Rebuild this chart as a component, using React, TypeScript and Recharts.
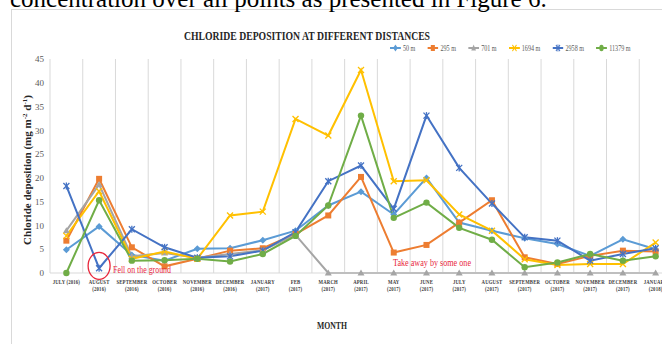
import React from 'react';
import { LineChart, Line, XAxis, YAxis, CartesianGrid, Legend, ReferenceDot } from 'recharts';

const monthNames = ['JULY', 'AUGUST', 'SEPTEMBER', 'OCTOBER', 'NOVEMBER', 'DECEMBER', 'JANUARY', 'FEB', 'MARCH', 'APRIL', 'MAY', 'JUNE', 'JULY', 'AUGUST', 'SEPTEMBER', 'OCTOBER', 'NOVEMBER', 'DECEMBER', 'JANUARY'];
const monthYears = ['2016', '2016', '2016', '2016', '2016', '2016', '2017', '2017', '2017', '2017', '2017', '2017', '2017', '2017', '2017', '2017', '2017', '2017', '2018'];

// chloride deposition, mg m-2 d-1
const m50 = [4.9, 9.8, 3.8, 2.6, 5.1, 5.2, 6.9, 8.9, 14.2, 17.1, 12.3, 20.0, 10.6, 8.9, 7.3, 6.1, 3.6, 7.1, 5.0];
const m295 = [6.8, 19.8, 5.4, 1.4, 3.0, 4.7, 5.2, 8.2, 12.1, 20.2, 4.3, 5.9, 10.6, 15.3, 3.3, 1.9, 3.6, 4.7, 4.5];
const m701 = [8.9, 18.6, 3.5, 4.2, 3.2, 4.0, 4.8, 8.0, 0, 0, 0, 0, 0, 0, 0, 0, 0, 0, 0];
const m1694 = [7.8, 17.2, 3.0, 4.5, 3.0, 12.1, 12.9, 32.4, 28.9, 42.7, 19.3, 19.5, 12.3, 8.9, 2.9, 1.7, 1.9, 1.9, 6.4];
const m2958 = [18.3, 1.0, 9.2, 5.4, 3.2, 3.5, 4.7, 8.6, 19.3, 22.6, 13.5, 33.1, 22.1, 14.6, 7.5, 6.8, 2.6, 4.0, 5.2];
const m11379 = [0, 15.3, 2.6, 2.7, 3.0, 2.4, 4.0, 7.8, 14.2, 33.1, 11.6, 14.8, 9.5, 7.0, 1.2, 2.2, 4.0, 2.6, 3.5];

const yTicks = [0, 5, 10, 15, 20, 25, 30, 35, 40, 45];

// "fell on the ground" mark
const fallMonth = 'AUGUST (2016)';
const fallValue = 1.5;

const months = monthNames.map((m, i) => `${m} (${monthYears[i]})`);

const series = [
  { key: 'm50', name: '50 m', color: '#5B9BD5', shape: 'diamond', values: m50 },
  { key: 'm295', name: '295 m', color: '#ED7D31', shape: 'square', values: m295 },
  { key: 'm701', name: '701 m', color: '#A5A5A5', shape: 'triangle', values: m701 },
  { key: 'm1694', name: '1694 m', color: '#FFC000', shape: 'x', values: m1694 },
  { key: 'm2958', name: '2958 m', color: '#4472C4', shape: 'star', values: m2958 },
  { key: 'm11379', name: '11379 m', color: '#70AD47', shape: 'circle', values: m11379 },
];

const data = months.map((month, i) => {
  const row: Record<string, any> = { month };
  series.forEach((s) => { row[s.key] = s.values[i]; });
  return row;
});

const serif = '"Liberation Serif", "Times New Roman", serif';

function marker(shape: string, cx: number, cy: number, color: string, key?: string) {
  if (cx == null || cy == null) return <g key={key} />;
  switch (shape) {
    case 'diamond':
      return <polygon key={key} points={`${cx},${cy - 3.5} ${cx + 3.5},${cy} ${cx},${cy + 3.5} ${cx - 3.5},${cy}`} fill={color} />;
    case 'square':
      return <rect key={key} x={cx - 3} y={cy - 3} width={6} height={6} fill={color} />;
    case 'triangle':
      return <polygon key={key} points={`${cx},${cy - 3.5} ${cx + 3.5},${cy + 2.5} ${cx - 3.5},${cy + 2.5}`} fill={color} />;
    case 'x':
      return (
        <g key={key} stroke={color} strokeWidth={1.3}>
          <line x1={cx - 3} y1={cy - 3} x2={cx + 3} y2={cy + 3} />
          <line x1={cx - 3} y1={cy + 3} x2={cx + 3} y2={cy - 3} />
        </g>
      );
    case 'star':
      return (
        <g key={key} stroke={color} strokeWidth={1.3}>
          <line x1={cx - 3} y1={cy - 3} x2={cx + 3} y2={cy + 3} />
          <line x1={cx - 3} y1={cy + 3} x2={cx + 3} y2={cy - 3} />
          <line x1={cx} y1={cy - 3.5} x2={cx} y2={cy + 3.5} />
        </g>
      );
    default:
      return <circle key={key} cx={cx} cy={cy} r={3.2} fill={color} />;
  }
}

// labels in the source are squeezed sideways, hence the scale
function MonthTick({ x, y, payload, index }: any) {
  const [name, yr] = String(payload.value).split(' ');
  const style = { fontFamily: serif, fontSize: 5.8, fontWeight: 700, fill: '#404040', letterSpacing: 0.2 };
  return (
    <g transform={`translate(${x},${y}) scale(0.82,1)`}>
      {index === 0 ? (
        <text x={0} y={3} textAnchor="middle" {...style}>{payload.value}</text>
      ) : (
        <text textAnchor="middle" {...style}>
          <tspan x={0} y={3}>{name}</tspan>
          <tspan x={0} y={10.5}>{yr}</tspan>
        </text>
      )}
    </g>
  );
}

const renderLegend = () => (
  <div style={{ display: 'flex', alignItems: 'center', transform: 'scaleX(0.68)', transformOrigin: 'left center', fontFamily: serif, fontSize: 9, color: '#595959', whiteSpace: 'nowrap', lineHeight: '10px' }}>
    {series.map((s) => (
      <span key={s.key} style={{ display: 'flex', alignItems: 'center', marginRight: 18 }}>
        <svg width={16} height={8}>
          <line x1={0} y1={4} x2={16} y2={4} stroke={s.color} strokeWidth={2} />
          {marker(s.shape, 8, 4, s.color)}
        </svg>
        <span style={{ marginLeft: 3 }}>{s.name}</span>
      </span>
    ))}
  </div>
);

export default function App() {
  return (
    <div style={{ position: 'absolute', left: 0, top: 0, width: 662, height: 344, overflow: 'hidden', background: '#fff' }}>
      <div style={{ position: 'absolute', left: 11, top: 9, width: 720, height: 400, border: '1px solid #D9D9D9' }} />
      <div style={{ position: 'absolute', left: 0, top: 0 }}>
        <LineChart width={672} height={344} data={data} margin={{ top: 59, right: 0, bottom: 0, left: 0 }}>
          <CartesianGrid
            horizontal={false}
            stroke="#D9D9D9"
            verticalCoordinatesGenerator={({ offset }: any) =>
              Array.from({ length: months.length + 1 }, (_, i) => offset.left + (i * offset.width) / months.length)
            }
          />
          <XAxis dataKey="month" scale="band" interval={0} tickLine={false} axisLine={{ stroke: '#D9D9D9' }} height={71} tick={<MonthTick />} />
          <YAxis
            domain={[0, 45]}
            ticks={yTicks}
            width={50}
            axisLine={false}
            tickLine={false}
            tickMargin={0}
            tick={{ fontFamily: serif, fontSize: 9, fill: '#595959' }}
          />
          <Legend verticalAlign="middle" align="center" layout="horizontal" wrapperStyle={{ left: 390, top: 43, width: 'auto' }} content={renderLegend} />
          {series.map((s) => (
            <Line
              key={s.key}
              dataKey={s.key}
              name={s.name}
              stroke={s.color}
              strokeWidth={2}
              isAnimationActive={false}
              dot={(p: any) => marker(s.shape, p.cx, p.cy, s.color, `${s.key}-${p.index}`)}
              activeDot={false}
            />
          ))}
          <ReferenceDot
            x={fallMonth}
            y={fallValue}
            shape={(p: any) => <ellipse cx={p.cx} cy={p.cy} rx={11} ry={13.5} fill="none" stroke="#E8283C" strokeWidth={1.3} />}
          />
        </LineChart>
      </div>
      <svg width={662} height={344} style={{ position: 'absolute', left: 0, top: 0, pointerEvents: 'none' }}>
        <text x={10} y={7} fontFamily={serif} fontSize={25} fill="#000">concentration over all points as presented in Figure 6.</text>
        <text x={184} y={40} fontFamily={serif} fontSize={12.5} fontWeight={700} fill="#262626" textLength={246} lengthAdjust="spacingAndGlyphs">
          CHLORIDE DEPOSITION AT DIFFERENT DISTANCES
        </text>
        <text transform="rotate(-90, 31, 170)" x={31} y={170} textAnchor="middle" fontFamily={serif} fontSize={11} fontWeight={700} fill="#262626">
          Chloride deposition (mg m<tspan fontSize={7} dy={-4}>-2</tspan><tspan dy={4}> d</tspan><tspan fontSize={7} dy={-4}>-1</tspan><tspan dy={4}>)</tspan>
        </text>
        <text x={317} y={329} fontFamily={serif} fontSize={10} fontWeight={700} fill="#262626" textLength={30} lengthAdjust="spacingAndGlyphs">MONTH</text>
        <text x={113} y={273} fontFamily={serif} fontSize={10.5} fill="#E8283C" textLength={58} lengthAdjust="spacingAndGlyphs">Fell on the ground</text>
        <text x={393} y={266} fontFamily={serif} fontSize={10.5} fill="#E8283C" textLength={78} lengthAdjust="spacingAndGlyphs">Take away by some one</text>
      </svg>
    </div>
  );
}
